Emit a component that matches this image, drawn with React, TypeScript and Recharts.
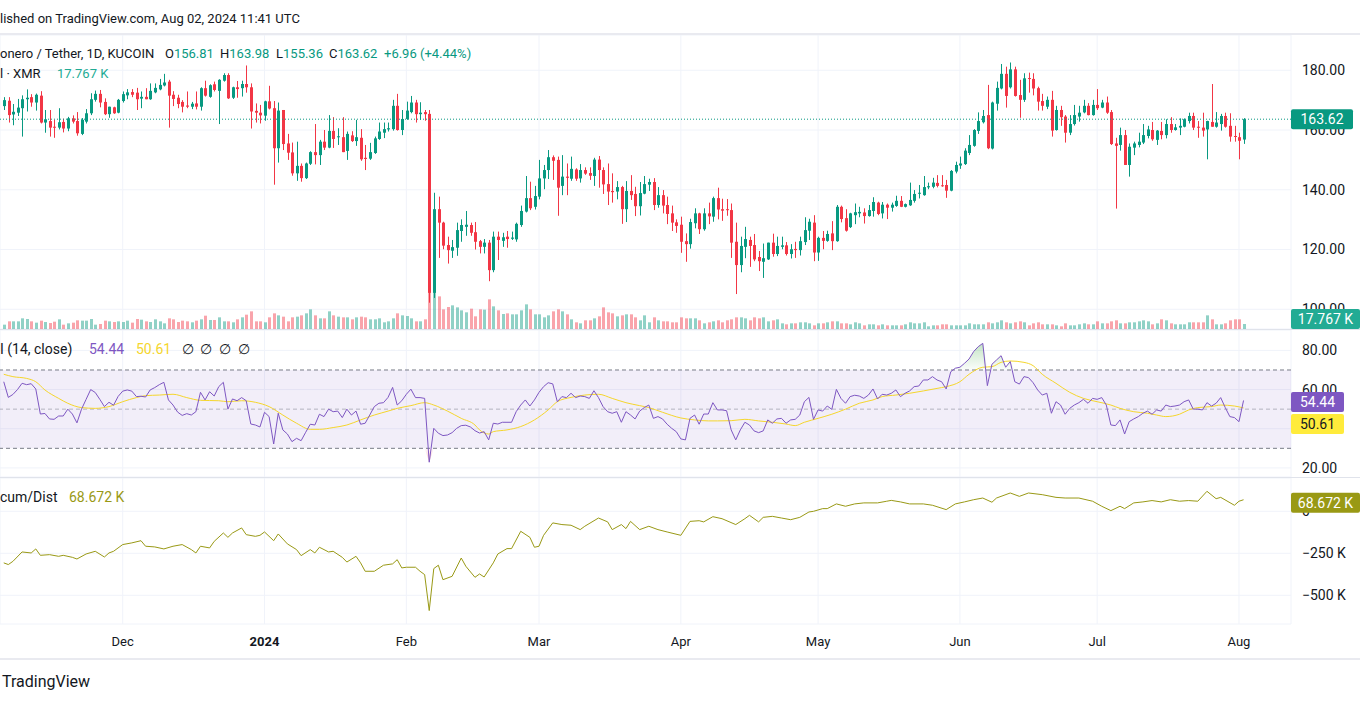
import React from 'react';
import {
  ComposedChart,
  Bar,
  Line,
  Area,
  XAxis,
  YAxis,
  CartesianGrid,
  ReferenceLine,
  ReferenceArea,
} from 'recharts';

// XMR/USDT daily, KuCoin, 2023-11-05 .. 2024-08-02 (one entry per day)
const opens = [
  168.0, 169.8, 165.2, 165.8, 167.3, 170.3, 171.0, 169.2, 171.5, 162.5,
  163.0, 161.1, 160.8, 162.7, 160.5, 163.9, 163.0, 158.7, 162.8, 165.6,
  170.1, 172.1, 169.4, 165.3, 167.6, 165.8, 169.7, 171.6, 172.7, 172.5,
  170.5, 171.1, 170.3, 172.6, 173.6, 174.9, 176.2, 171.8, 170.8, 169.4,
  168.2, 167.8, 168.9, 167.8, 174.0, 171.1, 175.3, 173.1, 176.5, 178.4,
  170.8, 174.3, 174.0, 175.4, 174.3, 166.4, 165.8, 164.8, 169.6, 167.3,
  153.9, 166.7, 155.5, 152.5, 145.5, 148.0, 143.9, 148.7, 152.6, 151.6,
  156.1, 154.1, 159.7, 157.6, 157.6, 153.0, 158.2, 156.3, 157.4, 150.7,
  150.4, 152.3, 157.0, 159.1, 160.2, 160.3, 168.1, 160.0, 163.7, 166.0,
  169.2, 165.3, 166.0, 165.4, 105.5, 133.5, 129.0, 121.5, 119.6, 120.6,
  126.2, 127.6, 128.2, 125.8, 122.8, 120.9, 122.3, 113.1, 124.3, 122.9,
  124.3, 123.6, 123.4, 128.2, 132.7, 137.2, 134.3, 137.7, 143.8, 146.6,
  150.9, 150.0, 141.3, 144.4, 143.7, 146.8, 143.8, 146.6, 145.6, 144.6,
  150.1, 146.6, 141.9, 139.6, 139.4, 140.9, 133.5, 139.6, 138.6, 134.5,
  138.7, 141.7, 142.6, 134.9, 138.2, 134.9, 132.1, 129.1, 128.3, 122.8,
  121.8, 128.8, 132.1, 126.8, 132.1, 131.0, 137.2, 133.5, 133.5, 133.2,
  122.6, 114.8, 120.9, 123.2, 121.5, 117.5, 115.9, 116.7, 122.3, 118.5,
  120.9, 121.4, 118.5, 120.2, 119.8, 122.5, 126.3, 129.0, 119.0, 123.9,
  122.9, 125.4, 122.8, 134.3, 130.5, 127.5, 131.5, 132.1, 132.4, 131.2,
  132.9, 135.7, 132.1, 135.0, 134.0, 134.6, 136.3, 134.3, 134.8, 136.3,
  138.7, 138.2, 140.8, 141.0, 142.3, 141.5, 141.6, 139.7, 146.1, 148.1,
  148.6, 152.3, 154.7, 159.7, 162.6, 165.0, 153.8, 168.8, 173.9, 178.8,
  174.3, 180.3, 171.7, 170.1, 177.4, 177.1, 174.0, 169.7, 167.8, 170.1,
  160.0, 166.7, 164.5, 159.1, 162.0, 164.5, 165.9, 168.1, 165.0, 168.4,
  167.5, 169.2, 166.0, 155.5, 155.0, 158.3, 148.3, 154.1, 155.0, 155.8,
  158.0, 160.0, 156.7, 159.7, 158.3, 162.0, 160.0, 160.8, 161.1, 163.0,
  164.7, 161.1, 160.8, 160.2, 162.7, 161.1, 162.0, 164.7, 161.4, 158.0,
  157.6, 156.81,
];

const highs = [
  171.0, 171.0, 168.7, 170.4, 171.6, 173.6, 172.0, 172.2, 173.0, 166.7,
  166.7, 163.4, 167.3, 163.8, 164.4, 164.9, 166.0, 164.0, 167.0, 172.3,
  173.2, 173.4, 170.6, 167.8, 167.8, 170.4, 172.9, 173.7, 173.7, 174.1,
  172.9, 174.0, 175.6, 175.6, 177.1, 178.8, 176.8, 173.0, 171.8, 170.0,
  172.9, 169.4, 172.9, 174.3, 176.5, 175.3, 176.2, 177.0, 179.0, 179.0,
  174.5, 176.4, 176.5, 181.6, 175.6, 168.9, 168.4, 169.8, 174.8, 169.7,
  169.2, 166.7, 158.7, 155.8, 156.1, 148.8, 149.1, 152.9, 162.0, 156.7,
  160.0, 165.0, 164.3, 160.6, 164.3, 159.5, 159.6, 163.4, 160.3, 155.0,
  155.7, 157.8, 162.5, 162.5, 162.5, 170.1, 172.1, 166.7, 169.5, 171.4,
  170.1, 169.3, 166.7, 166.7, 139.0, 137.7, 129.3, 124.3, 123.2, 129.0,
  130.1, 132.9, 129.0, 129.2, 123.2, 123.5, 123.2, 126.0, 126.0, 125.6,
  126.2, 126.0, 129.0, 134.7, 144.6, 142.7, 141.3, 150.0, 148.3, 153.3,
  151.5, 151.1, 151.6, 148.8, 151.1, 147.2, 148.6, 147.5, 147.5, 150.7,
  151.3, 147.5, 148.8, 145.5, 142.9, 141.3, 142.9, 144.9, 141.0, 142.6,
  144.6, 143.7, 143.9, 140.9, 139.9, 137.7, 134.7, 130.1, 131.0, 125.4,
  130.3, 133.8, 132.3, 133.8, 135.7, 137.7, 140.7, 137.0, 136.9, 135.4,
  129.0, 124.3, 127.6, 124.3, 125.2, 119.5, 122.0, 122.3, 125.3, 124.3,
  124.3, 122.5, 121.8, 122.6, 124.3, 130.8, 130.3, 131.5, 124.3, 126.2,
  126.3, 129.5, 134.9, 134.7, 133.5, 132.3, 135.4, 134.3, 133.8, 134.9,
  137.5, 136.0, 135.9, 135.4, 135.7, 138.0, 137.9, 135.4, 142.4, 139.9,
  141.6, 144.6, 142.4, 144.0, 144.9, 144.9, 143.3, 146.6, 149.4, 151.1,
  153.9, 158.3, 160.3, 165.9, 166.7, 175.1, 169.5, 176.2, 182.1, 181.2,
  182.6, 181.2, 176.8, 179.0, 179.2, 179.0, 174.5, 172.1, 171.2, 173.1,
  168.1, 168.1, 165.0, 165.0, 168.4, 168.1, 170.1, 169.0, 170.1, 173.7,
  170.1, 171.2, 166.7, 157.4, 160.8, 160.0, 155.5, 156.1, 159.1, 162.0,
  161.4, 162.7, 160.0, 162.7, 163.6, 164.3, 162.0, 163.9, 163.9, 165.8,
  165.8, 163.0, 165.8, 163.1, 175.4, 166.0, 165.4, 165.8, 165.6, 161.4,
  159.1, 163.98,
];

const lows = [
  166.7, 162.5, 161.6, 164.7, 157.8, 166.2, 167.8, 166.5, 162.2, 159.1,
  157.8, 157.4, 160.2, 159.2, 159.6, 162.2, 158.1, 158.3, 162.2, 165.0,
  169.5, 167.6, 165.0, 164.1, 165.4, 165.6, 169.2, 170.3, 171.0, 166.7,
  167.3, 170.3, 170.1, 172.3, 173.3, 174.6, 160.8, 168.0, 167.3, 165.9,
  167.3, 167.0, 166.9, 166.5, 171.2, 170.8, 172.9, 162.0, 176.2, 170.4,
  170.4, 170.8, 171.2, 172.5, 160.5, 162.5, 162.2, 163.1, 166.9, 141.7,
  149.1, 153.3, 150.0, 144.7, 143.0, 142.7, 143.6, 148.3, 148.5, 148.3,
  153.3, 153.9, 154.0, 155.0, 152.6, 150.0, 156.0, 154.7, 149.7, 146.6,
  150.0, 152.0, 156.7, 157.3, 159.5, 159.8, 159.8, 158.3, 163.4, 165.6,
  162.5, 163.4, 163.1, 102.2, 103.8, 117.2, 120.1, 115.3, 117.2, 117.9,
  122.6, 124.6, 124.6, 120.0, 118.7, 118.7, 109.4, 112.4, 116.5, 120.9,
  120.6, 123.2, 122.6, 127.6, 132.4, 133.2, 133.4, 136.8, 140.2, 143.6,
  143.3, 131.3, 138.2, 138.2, 143.0, 143.0, 142.4, 145.0, 143.3, 141.3,
  140.7, 138.6, 134.9, 135.7, 136.8, 128.6, 129.2, 136.6, 131.2, 131.4,
  138.5, 139.6, 133.2, 134.0, 132.1, 128.5, 126.2, 125.6, 118.9, 115.9,
  120.3, 127.1, 125.2, 126.3, 128.5, 129.3, 130.1, 129.6, 131.3, 117.2,
  105.1, 112.4, 117.1, 114.2, 116.1, 112.8, 110.5, 116.5, 117.6, 117.8,
  120.1, 118.0, 117.0, 117.2, 118.0, 121.5, 123.2, 116.1, 116.2, 120.1,
  122.6, 119.8, 122.6, 129.1, 126.0, 127.2, 128.5, 130.8, 128.7, 131.0,
  131.0, 131.5, 130.4, 130.2, 132.7, 134.3, 134.2, 134.1, 134.6, 135.7,
  137.1, 138.0, 140.2, 140.5, 140.8, 141.0, 137.3, 139.5, 145.5, 147.0,
  148.3, 151.6, 154.4, 158.7, 162.2, 153.6, 153.5, 166.5, 173.6, 167.5,
  173.9, 171.2, 164.1, 169.4, 172.5, 171.6, 166.5, 166.5, 167.0, 157.8,
  159.8, 161.4, 155.8, 158.3, 161.5, 162.8, 165.6, 164.9, 164.8, 166.7,
  167.3, 165.4, 155.0, 133.7, 153.1, 148.3, 144.4, 151.6, 154.2, 155.3,
  157.2, 156.4, 155.0, 156.9, 157.2, 159.1, 159.8, 158.3, 160.9, 162.2,
  160.0, 157.4, 157.8, 150.2, 161.1, 160.8, 159.8, 160.8, 156.1, 156.1,
  150.2, 155.36,
];

const closes = [
  170.0, 165.0, 166.1, 167.5, 170.3, 170.8, 169.2, 171.8, 162.5, 163.6,
  160.8, 160.8, 162.6, 160.5, 163.9, 162.8, 158.9, 163.4, 165.6, 170.3,
  172.1, 169.2, 165.3, 167.8, 165.6, 170.1, 172.0, 172.6, 171.8, 170.3,
  171.1, 170.3, 173.1, 174.1, 175.1, 175.9, 171.5, 170.4, 168.7, 167.8,
  167.8, 168.8, 167.8, 174.0, 171.5, 175.0, 173.4, 176.8, 178.4, 170.6,
  174.3, 173.7, 175.4, 174.3, 166.2, 165.8, 164.9, 169.6, 167.2, 153.9,
  166.5, 155.3, 152.4, 145.5, 148.0, 143.9, 148.8, 152.6, 151.6, 156.1,
  154.1, 159.7, 157.0, 157.9, 152.6, 158.7, 156.3, 157.6, 150.2, 150.3,
  152.6, 157.2, 159.5, 160.3, 160.6, 168.1, 160.0, 163.7, 166.5, 169.2,
  165.3, 165.8, 165.3, 105.5, 133.5, 129.0, 121.3, 119.8, 120.8, 126.5,
  128.2, 128.3, 125.6, 122.6, 120.9, 122.3, 113.1, 124.3, 123.2, 124.1,
  123.5, 124.0, 128.6, 132.9, 137.2, 133.8, 137.9, 143.8, 146.6, 150.9,
  149.7, 140.7, 144.4, 144.0, 147.0, 143.7, 146.6, 145.4, 144.7, 150.1,
  146.6, 141.8, 139.4, 139.2, 140.9, 133.5, 139.6, 138.2, 134.5, 138.9,
  141.9, 142.6, 134.9, 138.2, 134.7, 131.9, 129.0, 127.9, 122.6, 121.8,
  129.2, 132.1, 126.8, 132.1, 131.1, 137.2, 133.4, 133.0, 133.2, 122.3,
  114.8, 121.2, 123.5, 121.2, 116.7, 116.1, 117.1, 122.3, 118.5, 121.2,
  121.4, 118.5, 120.1, 119.8, 122.8, 126.5, 129.3, 119.0, 123.9, 122.9,
  125.2, 122.8, 134.3, 130.2, 126.3, 132.1, 132.5, 132.6, 131.2, 133.2,
  135.9, 131.9, 135.0, 134.0, 135.0, 136.3, 134.3, 135.2, 136.6, 138.6,
  139.0, 140.9, 141.2, 142.4, 141.3, 141.3, 139.7, 146.3, 148.3, 148.8,
  153.1, 155.0, 160.0, 163.0, 164.7, 153.9, 169.2, 174.1, 178.8, 171.4,
  180.3, 171.4, 170.1, 177.3, 177.1, 173.9, 169.5, 168.1, 170.1, 159.8,
  166.7, 164.3, 159.1, 162.0, 165.0, 165.8, 168.1, 165.0, 168.4, 167.3,
  169.2, 165.8, 155.3, 154.7, 158.3, 148.3, 154.4, 155.5, 156.1, 158.3,
  160.2, 156.9, 159.8, 158.3, 162.0, 160.0, 160.9, 161.4, 163.6, 164.7,
  160.8, 160.8, 159.8, 163.0, 161.1, 162.5, 164.7, 161.1, 157.8, 157.7,
  156.4, 163.62,
];

// volume in thousands of XMR
const volumes = [
  15.4, 27.2, 27.2, 27.2, 37.9, 35.5, 27.2, 22.5, 29.6, 24.8,
  21.3, 26.0, 34.3, 15.4, 20.1, 22.5, 30.8, 29.6, 29.6, 35.5,
  15.4, 17.8, 29.6, 27.2, 24.8, 27.2, 24.8, 29.6, 22.5, 35.5,
  33.1, 27.2, 24.8, 34.3, 27.2, 20.1, 37.9, 34.3, 24.8, 29.6,
  27.2, 23.7, 29.6, 34.3, 47.3, 32.0, 32.0, 41.4, 27.2, 27.2,
  23.7, 34.3, 41.4, 50.9, 62.7, 27.2, 27.2, 23.7, 41.4, 55.6,
  48.5, 43.8, 27.2, 41.4, 43.8, 48.5, 55.6, 69.8, 48.5, 37.9,
  37.9, 62.7, 48.5, 43.8, 41.4, 41.4, 34.3, 41.4, 43.8, 41.4,
  34.3, 34.3, 37.9, 23.7, 27.2, 37.9, 55.6, 48.5, 46.1, 37.9,
  27.2, 27.2, 34.3, 186.9, 150.2, 115.9, 69.8, 78.1, 84.0, 76.9,
  66.2, 59.2, 72.2, 45.0, 69.8, 68.6, 105.3, 80.4, 66.2, 53.2,
  55.6, 52.1, 52.1, 66.2, 87.5, 69.8, 52.1, 52.1, 41.4, 48.5,
  62.7, 69.8, 62.7, 52.1, 34.3, 23.7, 20.1, 30.8, 30.8, 37.9,
  45.0, 76.9, 59.2, 55.6, 45.0, 48.5, 52.1, 52.1, 41.4, 30.8,
  48.5, 23.7, 41.4, 30.8, 27.2, 27.2, 23.7, 23.7, 41.4, 37.9,
  37.9, 37.9, 30.8, 20.1, 23.7, 27.2, 30.8, 23.7, 30.8, 34.3,
  41.4, 41.4, 37.9, 30.8, 41.4, 37.9, 41.4, 27.2, 30.8, 34.3,
  20.1, 16.6, 20.1, 20.1, 23.7, 23.7, 20.1, 13.0, 20.1, 20.1,
  23.7, 27.2, 27.2, 20.1, 20.1, 16.6, 23.7, 20.1, 13.0, 16.6,
  16.6, 13.0, 16.6, 13.0, 13.0, 13.0, 13.0, 16.6, 23.7, 20.1,
  20.1, 23.7, 9.5, 13.0, 13.0, 16.6, 16.6, 13.0, 13.0, 13.0,
  13.0, 20.1, 16.6, 16.6, 16.6, 23.7, 20.1, 23.7, 30.8, 23.7,
  20.1, 23.7, 27.2, 23.7, 13.0, 20.1, 23.7, 16.6, 16.6, 16.6,
  13.0, 9.5, 20.1, 13.0, 13.0, 16.6, 20.1, 16.6, 16.6, 27.2,
  20.1, 20.1, 27.2, 30.8, 20.1, 20.1, 23.7, 23.7, 27.2, 30.8,
  27.2, 16.6, 20.1, 34.3, 30.8, 20.1, 16.6, 16.6, 16.6, 23.7,
  23.7, 23.7, 23.7, 48.5, 34.3, 16.6, 16.6, 20.1, 30.8, 34.3,
  34.3, 17.767,
];

// RSI(14)
const rsiValues = [
  64.0, 56.0, 57.5, 60.0, 63.2, 62.5, 63.0, 60.3, 47.5, 47.8,
  45.0, 44.8, 46.5, 46.5, 50.0, 47.5, 43.0, 50.0, 55.0, 60.0,
  58.5, 55.0, 51.3, 53.5, 52.0, 56.5, 59.2, 59.8, 59.2, 56.4,
  56.6, 56.2, 59.8, 61.0, 62.5, 63.7, 54.7, 52.1, 48.5, 46.8,
  47.7, 47.0, 48.7, 58.6, 54.7, 58.9, 56.7, 61.5, 63.7, 50.0,
  55.2, 54.3, 55.9, 54.3, 42.4, 41.9, 40.9, 48.4, 46.2, 32.2,
  47.9, 39.4, 37.3, 33.4, 35.1, 33.9, 38.2, 42.3, 41.9, 47.4,
  46.2, 50.0, 48.7, 49.0, 45.7, 50.0, 47.0, 49.0, 42.3, 42.8,
  47.0, 51.3, 53.0, 53.3, 56.0, 61.1, 52.1, 54.3, 57.6, 60.2,
  55.9, 55.9, 55.5, 22.9, 40.2, 37.7, 36.5, 36.8, 38.0, 40.2,
  41.6, 41.8, 40.9, 39.0, 37.8, 38.5, 34.3, 42.8, 42.4, 43.3,
  43.3, 43.3, 48.7, 52.1, 54.7, 51.6, 54.7, 58.6, 61.5, 63.5,
  62.9, 53.8, 56.4, 55.9, 58.1, 55.9, 56.7, 56.4, 55.5, 59.4,
  55.9, 51.3, 48.7, 47.9, 48.7, 43.3, 48.7, 47.0, 45.0, 49.0,
  50.8, 52.1, 45.3, 46.2, 45.0, 42.3, 40.2, 38.5, 34.8, 34.3,
  45.3, 47.0, 42.3, 47.5, 47.5, 53.3, 49.6, 49.6, 49.2, 39.4,
  34.3, 39.4, 43.3, 41.9, 38.9, 38.0, 38.9, 44.5, 42.8, 45.0,
  45.3, 42.8, 44.5, 44.8, 47.0, 53.8, 56.0, 44.8, 49.6, 49.0,
  51.6, 49.9, 60.1, 55.5, 53.0, 56.4, 57.1, 56.7, 55.5, 57.2,
  60.3, 55.2, 57.6, 57.2, 58.1, 59.8, 56.4, 58.1, 59.3, 61.5,
  61.8, 64.9, 64.9, 66.6, 64.9, 64.0, 60.3, 69.1, 70.9, 71.4,
  73.4, 75.6, 79.4, 81.9, 83.6, 62.0, 72.9, 75.1, 77.3, 71.4,
  74.3, 64.0, 62.8, 66.6, 66.1, 63.5, 59.8, 57.2, 58.1, 47.9,
  53.8, 52.1, 47.4, 50.4, 52.1, 53.3, 55.0, 53.0, 55.5, 55.0,
  55.9, 52.1, 41.9, 41.6, 44.5, 37.3, 43.6, 45.0, 46.2, 47.9,
  49.0, 47.4, 49.6, 49.0, 52.1, 51.3, 51.6, 52.1, 53.8, 54.7,
  50.0, 50.0, 49.6, 53.3, 51.6, 53.0, 55.9, 50.8, 46.2, 45.7,
  43.6, 54.44,
];

// RSI-based MA, read at [day index, value]
const rsiMaPoints: [number, number][] = [
  [0, 67.8], [2, 66.6], [5, 65.7], [7, 64], [9, 59.8], [12, 55.5], [14, 53], [17, 50.8],
  [20, 50.4], [23, 51.3], [26, 53.8], [29, 55.9], [31, 56.9], [34, 57.2], [37, 57.6],
  [40, 55.9], [43, 54.5], [47, 54.3], [49, 53.8], [52, 54.3], [55, 53.5], [58, 51.3],
  [61, 47], [64, 42.8], [67, 39.7], [69, 39.7], [72, 40.6], [75, 41.9], [78, 44.5],
  [81, 47], [84, 49], [86, 50.4], [89, 51.8], [92, 53.3], [94, 52.1], [97, 49],
  [100, 45.3], [103, 41.9], [104, 39.4], [106, 37.3], [107, 38.5], [110, 39.4],
  [113, 41.1], [116, 44.5], [119, 49.6], [121, 53.8], [124, 56], [127, 57.2],
  [130, 57.6], [133, 55.5], [136, 53.3], [139, 51.8], [141, 50.8], [144, 48.4],
  [148, 45.5], [151, 44.5], [154, 44], [156, 44], [159, 44.1], [162, 44.8], [165, 44],
  [168, 43.3], [171, 42.4], [173, 41.6], [175, 43.3], [178, 45.3], [181, 47.4],
  [184, 50], [187, 53], [190, 54.7], [192, 56.4], [195, 57.2], [198, 58.1],
  [201, 59.3], [204, 60.6], [206, 61.5], [209, 64], [211, 67.8], [214, 71.4],
  [216, 71.7], [218, 73.9], [220, 74.6], [223, 73.9], [225, 72.2], [227, 67.8],
  [230, 63.2], [233, 58.6], [236, 55.5], [239, 53.8], [242, 52.1], [244, 50.4],
  [247, 48.7], [250, 47.9], [252, 47], [254, 46.2], [257, 47.4], [259, 49.6],
  [261, 50.8], [264, 51.3], [266, 52.1], [269, 51.6], [271, 50.61],
];

// Accumulation/Distribution in thousands, read at [day index, value]
const accDistPoints: [number, number][] = [
  [0, -307], [1, -317], [2, -298], [4, -242], [6, -248], [7, -224], [8, -262], [10, -258],
  [12, -268], [13, -262], [15, -274], [16, -284], [18, -254], [20, -238], [22, -272],
  [23, -248], [24, -238], [26, -198], [28, -188], [30, -175], [31, -208], [33, -212],
  [35, -224], [37, -208], [39, -198], [41, -228], [42, -248], [43, -208], [45, -218],
  [46, -179], [48, -129], [49, -155], [50, -129], [52, -99], [53, -139], [55, -149],
  [56, -143], [57, -123], [59, -175], [60, -135], [62, -194], [64, -228], [65, -264],
  [67, -228], [68, -248], [69, -214], [71, -242], [72, -238], [74, -274], [75, -302],
  [77, -268], [78, -307], [79, -357], [81, -357], [83, -321], [85, -313], [86, -288],
  [87, -337], [88, -333], [90, -333], [91, -357], [92, -377], [93, -591], [94, -341],
  [95, -321], [96, -407], [98, -387], [100, -278], [101, -327], [103, -393], [104, -373],
  [105, -391], [107, -307], [108, -254], [110, -222], [111, -222], [113, -119],
  [115, -155], [116, -214], [117, -208], [118, -143], [120, -69], [122, -79], [124, -83],
  [126, -109], [127, -89], [130, -40], [132, -63], [133, -109], [135, -79], [136, -103],
  [137, -60], [139, -109], [141, -89], [143, -109], [145, -123], [148, -143], [150, -60],
  [152, -56], [153, -63], [155, -32], [157, -44], [160, -79], [162, -44], [163, -24],
  [165, -63], [166, -36], [168, -30], [170, -40], [172, -50], [174, -36], [176, -4],
  [177, 0], [179, 16], [180, 16], [182, 44], [184, 30], [186, 44], [188, 50], [191, 50],
  [193, 60], [194, 65], [196, 56], [198, 44], [201, 44], [203, 36], [206, 10], [208, 44],
  [210, 56], [212, 69], [214, 79], [216, 54], [217, 79], [220, 109], [222, 89], [224, 109],
  [227, 99], [230, 83], [232, 79], [235, 79], [238, 60], [240, 30], [242, 4], [244, 30],
  [245, 16], [247, 50], [249, 56], [251, 64], [253, 56], [255, 69], [257, 60], [259, 64],
  [261, 60], [263, 119], [265, 75], [266, 83], [269, 36], [270, 60], [271, 68.672],
];

// first day of each month, as day index from 2023-11-05
const monthTicks = [26, 57, 88, 117, 148, 178, 209, 239, 270];
const monthLabels = ['Dec', '2024', 'Feb', 'Mar', 'Apr', 'May', 'Jun', 'Jul', 'Aug'];

const priceTicks = [100, 120, 140, 160, 180];
const rsiTicks = [20, 40, 60, 80];
const adTicks = [-500, -250, 0];

const UP = '#089981';
const DOWN = '#f23645';
const TEXT = '#131722';
const GRID = '#f0f3fa';
const RSI_COLOR = '#7e57c2';
const MA_COLOR = '#f5d62c';
const AD_COLOR = '#999915';
const FONT = 'Roboto, "Noto Sans", sans-serif';

const W = 1360;
const AXIS_W = 69;
const X_DOMAIN = [-0.82, 281.37];
const PRICE_DOMAIN = [93.4, 191.8];
const VOL_DOMAIN = [0, 1044];
const RSI_DOMAIN = [15.35, 90.42];
const AD_DOMAIN = [-670.8, 198.2];
const NO_MARGIN = { top: 0, right: 0, bottom: 0, left: 0 };
const TAG_MARGIN = { top: 0, right: AXIS_W, bottom: 0, left: 0 };

const rows = closes.map((c, i) => ({
  i,
  o: opens[i],
  h: highs[i],
  l: lows[i],
  c,
  range: [lows[i], highs[i]],
  vol: volumes[i],
  up: c >= opens[i],
  rsi: rsiValues[i],
  rsiMa: null as number | null,
  ad: null as number | null,
}));
rsiMaPoints.forEach(([i, v]) => (rows[i].rsiMa = v));
accDistPoints.forEach(([i, v]) => (rows[i].ad = v));

const tickStyle = { fill: TEXT, fontSize: 14, fontFamily: FONT };

function Candle(props: any) {
  const { x, y, width, height, payload } = props;
  if (!payload || x == null || y == null) return null;
  const { o, h, l, c } = payload;
  const color = c >= o ? UP : DOWN;
  const top = Math.min(y, y + height);
  const span = Math.abs(height);
  const k = h - l > 0 ? span / (h - l) : 0;
  const bodyTop = top + (h - Math.max(o, c)) * k;
  const bodyBot = top + (h - Math.min(o, c)) * k;
  const cx = Math.round(x + width / 2);
  return (
    <g>
      <rect x={cx} y={top} width={1} height={Math.max(1, span)} fill={color} />
      <rect x={cx - 1} y={bodyTop} width={3} height={Math.max(1, bodyBot - bodyTop)} fill={color} />
    </g>
  );
}

function VolumeBar(props: any) {
  const { x, y, width, height, payload } = props;
  if (!payload || x == null) return null;
  const cx = Math.round(x + width / 2);
  const top = Math.min(y, y + height);
  return (
    <rect x={cx - 1} y={top} width={3} height={Math.abs(height)} fill={payload.up ? UP : DOWN} fillOpacity={0.45} />
  );
}

// price-scale badge drawn at the right end of a reference line
function tag(text: string, bg: string, fg: string, w: number, shift = 0, maxCenter?: number) {
  return (props: any) => {
    const vb = props.viewBox;
    if (!vb) return null;
    let cy = vb.y + shift;
    if (maxCenter != null) cy = Math.min(cy, maxCenter);
    const x0 = vb.x + vb.width;
    return (
      <g>
        <rect x={x0} y={cy - 10} width={w} height={20} rx={2} fill={bg} />
        <text x={x0 + w / 2} y={cy} dy="0.36em" textAnchor="middle" fill={fg} fontSize={14} fontFamily={FONT}>
          {text}
        </text>
      </g>
    );
  };
}

function MonthTick(props: any) {
  const { x, y, payload } = props;
  const label = monthLabels[monthTicks.indexOf(payload.value)];
  return (
    <text x={x} y={y} dy="0.71em" textAnchor="middle" fill={TEXT} fontSize={13} fontFamily={FONT}
      fontWeight={/^\d{4}$/.test(label) ? 700 : 400}>
      {label}
    </text>
  );
}

const formatK = (v: number) => (v === 0 ? '0' : `\u2212${Math.abs(v)} K`);

function Txt({ x, y, color = TEXT, size = 13, cut, children }: any) {
  return (
    <div style={{ position: 'absolute', left: x, top: y - 9, height: 18, lineHeight: '18px', fontSize: size,
      color, fontFamily: FONT, whiteSpace: 'nowrap' }}>
      {cut ? (
        <span style={{ position: 'relative' }}>
          <span style={{ position: 'absolute', right: '100%' }}>{cut}</span>
          {children}
        </span>
      ) : children}
    </div>
  );
}

const Hline = ({ y, h = 1, color = '#e0e3eb' }: any) => (
  <div style={{ position: 'absolute', left: 0, top: y, width: W, height: h, background: color }} />
);

const Pane = ({ top, children }: any) => (
  <div style={{ position: 'absolute', left: 0, top }}>{children}</div>
);

export default function App() {
  return (
    <div style={{ position: 'fixed', left: 0, top: 0, width: W, height: 703, background: '#fff', overflow: 'hidden' }}>
      <Txt x={0} y={19} size={13} cut="Pub">lished on TradingView.com, Aug 02, 2024 11:41 UTC</Txt>
      <Hline y={33} h={2} color="#e9eaf0" />

      {/* volume layer (behind candles) */}
      <Pane top={35}>
        <ComposedChart width={W} height={294} data={rows} margin={TAG_MARGIN}>
          <CartesianGrid stroke={GRID} yAxisId="price" />
          <XAxis type="number" dataKey="i" domain={X_DOMAIN} ticks={monthTicks} hide allowDataOverflow />
          <YAxis yAxisId="price" domain={PRICE_DOMAIN} ticks={priceTicks} hide allowDataOverflow />
          <YAxis yAxisId="vol" domain={VOL_DOMAIN} hide allowDataOverflow />
          <Bar yAxisId="vol" dataKey="vol" barSize={3} shape={<VolumeBar />} isAnimationActive={false} />
        </ComposedChart>
      </Pane>

      {/* price pane */}
      <Pane top={35}>
        <ComposedChart width={W} height={294} data={rows} margin={NO_MARGIN}>
          <XAxis type="number" dataKey="i" domain={X_DOMAIN} ticks={monthTicks} hide allowDataOverflow />
          <YAxis yAxisId="price" orientation="right" width={AXIS_W} domain={PRICE_DOMAIN} ticks={priceTicks}
            tickFormatter={(v: number) => v.toFixed(2)} axisLine={false} tickLine={false} tickSize={0}
            tickMargin={11} tick={tickStyle} allowDataOverflow />
          <Bar yAxisId="price" dataKey="range" barSize={3} shape={<Candle />} isAnimationActive={false} />
          <ReferenceLine yAxisId="price" y={163.62} stroke={UP} strokeDasharray="1 2" />
        </ComposedChart>
      </Pane>

      {/* price / volume badges, above the axis labels */}
      <Pane top={35}>
        <ComposedChart width={W} height={294} data={rows} margin={TAG_MARGIN}>
          <XAxis type="number" dataKey="i" domain={X_DOMAIN} hide allowDataOverflow />
          <YAxis yAxisId="price" domain={PRICE_DOMAIN} hide allowDataOverflow />
          <YAxis yAxisId="vol" domain={VOL_DOMAIN} hide allowDataOverflow />
          <ReferenceLine yAxisId="price" y={163.62} stroke="none" label={tag('163.62', UP, '#fff', 62)} />
          <ReferenceLine yAxisId="vol" y={17.767} stroke="none"
            label={tag('17.767 K', '#22ab94', '#fff', 69, 0, 284)} />
        </ComposedChart>
      </Pane>

      <Txt x={0} y={54} cut="M">onero / Tether, 1D, KUCOIN</Txt>
      <Txt x={165} y={54}>O<span style={{ color: UP }}>156.81</span></Txt>
      <Txt x={220} y={54}>H<span style={{ color: UP }}>163.98</span></Txt>
      <Txt x={276} y={54}>L<span style={{ color: UP }}>155.36</span></Txt>
      <Txt x={329} y={54}>C<span style={{ color: UP }}>163.62</span></Txt>
      <Txt x={384} y={54} color={UP}>+6.96 (+4.44%)</Txt>
      <Txt x={0} y={74} cut="Vo">l · XMR</Txt>
      <Txt x={57} y={74} color="#22ab94">17.767 K</Txt>

      <Hline y={329} />

      {/* RSI pane */}
      <Pane top={330}>
        <ComposedChart width={W} height={147} data={rows} margin={NO_MARGIN}>
          <defs>
            <linearGradient id="obFill" x1="0" y1="0" x2="0" y2="1">
              <stop offset="0%" stopColor="#4caf50" stopOpacity={0.55} />
              <stop offset="100%" stopColor="#4caf50" stopOpacity={0.04} />
            </linearGradient>
            <linearGradient id="osFill" x1="0" y1="0" x2="0" y2="1">
              <stop offset="0%" stopColor="#f23645" stopOpacity={0.04} />
              <stop offset="100%" stopColor="#f23645" stopOpacity={0.5} />
            </linearGradient>
          </defs>
          <CartesianGrid stroke={GRID} />
          <XAxis type="number" dataKey="i" domain={X_DOMAIN} ticks={monthTicks} hide allowDataOverflow />
          <YAxis orientation="right" width={AXIS_W} domain={RSI_DOMAIN} ticks={rsiTicks}
            tickFormatter={(v: number) => v.toFixed(2)} axisLine={false} tickLine={false} tickSize={0}
            tickMargin={11} tick={tickStyle} allowDataOverflow />
          <ReferenceArea y1={30} y2={70} fill={RSI_COLOR} fillOpacity={0.1} stroke="none" />
          <ReferenceLine y={70} stroke="#787b86" strokeDasharray="4 3" />
          <ReferenceLine y={50} stroke="#787b86" strokeOpacity={0.5} strokeDasharray="4 3" />
          <ReferenceLine y={30} stroke="#787b86" strokeDasharray="4 3" />
          <Area dataKey={(d: any) => [70, Math.max(70, d.rsi)]} fill="url(#obFill)" stroke="none"
            isAnimationActive={false} />
          <Area dataKey={(d: any) => [Math.min(30, d.rsi), 30]} fill="url(#osFill)" stroke="none"
            isAnimationActive={false} />
          <Line dataKey="rsiMa" stroke={MA_COLOR} strokeWidth={1} dot={false} connectNulls type="monotone"
            isAnimationActive={false} />
          <Line dataKey="rsi" stroke={RSI_COLOR} strokeWidth={1} dot={false} isAnimationActive={false} />
        </ComposedChart>
      </Pane>
      <Pane top={330}>
        <ComposedChart width={W} height={147} data={rows} margin={TAG_MARGIN}>
          <XAxis type="number" dataKey="i" domain={X_DOMAIN} hide allowDataOverflow />
          <YAxis domain={RSI_DOMAIN} hide allowDataOverflow />
          <ReferenceLine y={54.44} stroke="none" label={tag('54.44', RSI_COLOR, '#fff', 53, 1.6)} />
          <ReferenceLine y={50.61} stroke="none" label={tag('50.61', '#ffeb3b', TEXT, 53, 16)} />
        </ComposedChart>
      </Pane>

      <Txt x={0} y={349} size={14} cut="RS">I (14, close)</Txt>
      <Txt x={89} y={349} size={14} color={RSI_COLOR}>54.44</Txt>
      <Txt x={136} y={349} size={14} color={MA_COLOR}>50.61</Txt>
      <Txt x={182} y={349} size={14}>∅</Txt>
      <Txt x={200} y={349} size={14}>∅</Txt>
      <Txt x={219} y={349} size={14}>∅</Txt>
      <Txt x={238} y={349} size={14}>∅</Txt>

      <Hline y={477} />

      {/* Accumulation / Distribution pane + time axis */}
      <Pane top={478}>
        <ComposedChart width={W} height={181} data={rows} margin={NO_MARGIN}>
          <CartesianGrid stroke={GRID} />
          <XAxis type="number" dataKey="i" domain={X_DOMAIN} ticks={monthTicks} interval={0} height={35}
            axisLine={false} tickLine={false} tickSize={0} tickMargin={13} tick={<MonthTick />} allowDataOverflow />
          <YAxis orientation="right" width={AXIS_W} domain={AD_DOMAIN} ticks={adTicks}
            tickFormatter={formatK} axisLine={false} tickLine={false} tickSize={0} tickMargin={11}
            tick={tickStyle} allowDataOverflow />
          <Line dataKey="ad" stroke={AD_COLOR} strokeWidth={1} dot={false} connectNulls isAnimationActive={false} />
        </ComposedChart>
      </Pane>
      <Pane top={478}>
        <ComposedChart width={W} height={146} data={rows} margin={TAG_MARGIN}>
          <XAxis type="number" dataKey="i" domain={X_DOMAIN} hide allowDataOverflow />
          <YAxis domain={AD_DOMAIN} hide allowDataOverflow />
          <ReferenceLine y={68.672} stroke="none" label={tag('68.672 K', AD_COLOR, '#fff', 69, 3)} />
        </ComposedChart>
      </Pane>

      <Txt x={0} y={497} size={14} cut="Ac">cum/Dist</Txt>
      <Txt x={69} y={497} size={14} color={AD_COLOR}>68.672 K</Txt>

      <Hline y={658} h={2} color="#e9eaf0" />
      <Txt x={2} y={682} size={16}>TradingView</Txt>
    </div>
  );
}
